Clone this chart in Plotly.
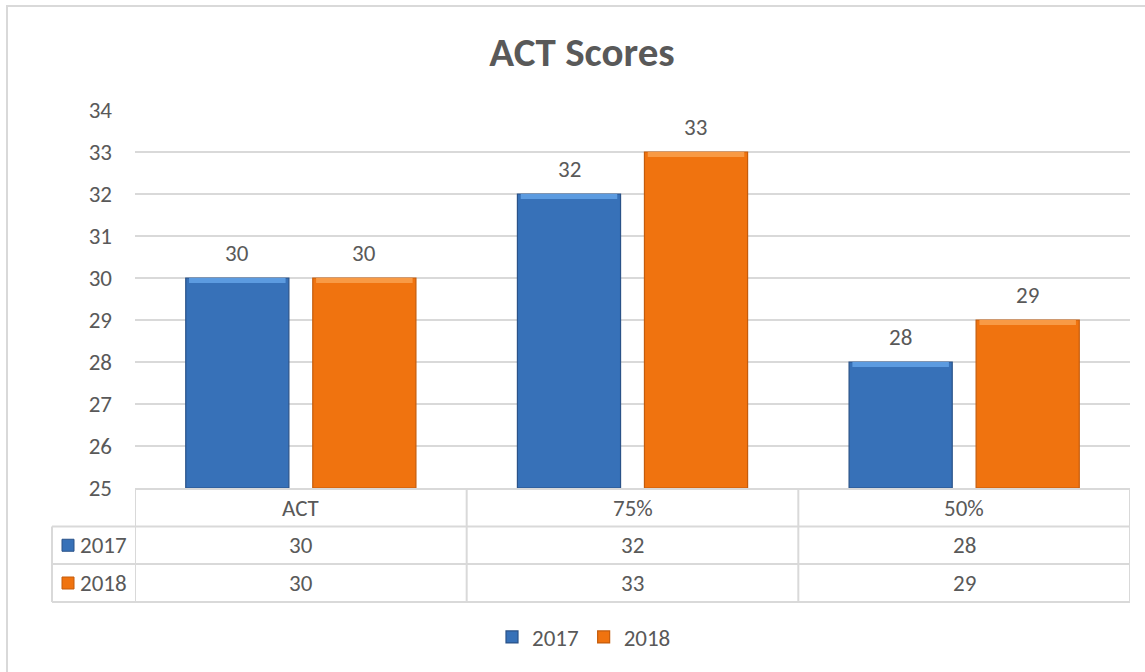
import plotly.graph_objects as go

categories = ["ACT", "75%", "50%"]
series_names = ["2017", "2018"]
values_2017 = [30, 32, 28]
values_2018 = [30, 33, 29]
y_ticks = [25, 26, 27, 28, 29, 30, 31, 32, 33, 34]

FONT = "Calibri, Carlito, Lato, sans-serif"
FS = 23
TXT = "#595959"
GRID = "#d9d9d9"

colors = {"2017": "#3771b8", "2018": "#f0730f"}
tops = {"2017": "#5c9be0", "2018": "#f89a45"}
edges = {"2017": "#2a5288", "2018": "#c45c0c"}
offsets = {"2017": -0.347, "2018": 0.036}
BW = 0.311
BASE = 25

fig = go.Figure()
series = {"2017": values_2017, "2018": values_2018}
for name in series_names:
    vals = series[name]
    fig.add_trace(go.Bar(
        x=categories, y=[v - BASE for v in vals], base=BASE, name=name,
        width=BW, offset=offsets[name],
        marker=dict(color=colors[name], line=dict(color=edges[name], width=1.2)),
        hoverinfo="x+y+name",
    ))
    # top bevel highlight
    fig.add_trace(go.Bar(
        x=categories, y=[0.12] * len(vals), base=[v - 0.12 for v in vals],
        width=BW - 0.02, offset=offsets[name] + 0.01, showlegend=False,
        marker=dict(color=tops[name], line=dict(width=0)), hoverinfo="skip",
    ))

annotations = []
# data labels above bars
for name in series_names:
    for c, v in zip(categories, series[name]):
        annotations.append(dict(
            x=c, y=v, xref="x", yref="y", text=str(v), showarrow=False,
            xanchor="center", yanchor="middle",
            xshift=(offsets[name] + BW / 2) * 331, yshift=25,
            font=dict(family=FONT, size=FS, color=TXT)))

# data table geometry (paper coords)
PW, PH = 995.0, 378.0
def py(pix):
    return (488 - pix) / PH
def px(pix):
    return (pix - 135) / PW

row_lines = [py(489), py(526.5), py(564), py(602)]
shapes = []
# table horizontal lines
shapes.append(dict(type="line", xref="paper", yref="paper", x0=0, x1=1, y0=row_lines[0], y1=row_lines[0],
                   line=dict(color=GRID, width=2)))
for yv in row_lines[1:]:
    shapes.append(dict(type="line", xref="paper", yref="paper", x0=px(52), x1=1, y0=yv, y1=yv,
                       line=dict(color=GRID, width=2)))
# table vertical lines
for xv in [-0.5, 0.5, 1.5, 2.5]:
    shapes.append(dict(type="line", xref="x", yref="paper", x0=xv, x1=xv, y0=row_lines[0], y1=row_lines[3],
                       line=dict(color=GRID, width=2)))
shapes.append(dict(type="line", xref="paper", yref="paper", x0=px(52), x1=px(52), y0=row_lines[1], y1=row_lines[3],
                   line=dict(color=GRID, width=2)))
# outer chart border
shapes.append(dict(type="rect", xref="paper", yref="paper", x0=px(7), x1=px(1160), y0=py(690), y1=py(6),
                   line=dict(color=GRID, width=2), layer="below"))

# header
hy = (row_lines[0] + row_lines[1]) / 2
for c in categories:
    annotations.append(dict(x=c, y=hy, xref="x", yref="paper", text=c, showarrow=False,
                            xanchor="center", yanchor="middle",
                            font=dict(family=FONT, size=FS, color=TXT)))
# rows
for i, name in enumerate(series_names):
    ry = (row_lines[i + 1] + row_lines[i + 2]) / 2
    shapes.append(dict(type="rect", xref="paper", yref="paper",
                       x0=px(62), x1=px(74), y0=ry - 6 / PH, y1=ry + 6 / PH,
                       fillcolor=colors[name], line=dict(color=edges[name], width=1)))
    annotations.append(dict(x=px(78), y=ry, xref="paper", yref="paper", text=name, showarrow=False,
                            xanchor="left", yanchor="middle", font=dict(family=FONT, size=FS, color=TXT)))
    for c, v in zip(categories, series[name]):
        annotations.append(dict(x=c, y=ry, xref="x", yref="paper", text=str(v), showarrow=False,
                                xanchor="center", yanchor="middle",
                                font=dict(family=FONT, size=FS, color=TXT)))

fig.update_layout(
    width=1145, height=672,
    margin=dict(l=135, r=15, t=110, b=184),
    paper_bgcolor="white", plot_bgcolor="white",
    barmode="overlay",
    title=dict(text="<b>ACT Scores</b>", x=582 / 1145, xanchor="center", xref="container",
               y=1 - 52 / 672, yanchor="middle", yref="container",
               font=dict(family=FONT, size=41, color=TXT)),
    xaxis=dict(showticklabels=False, showgrid=False, zeroline=False, showline=False,
               range=[-0.5, 2.5], fixedrange=True),
    yaxis=dict(range=[25, 34], tickvals=y_ticks, showgrid=True, gridcolor=GRID, gridwidth=2,
               zeroline=False, showline=False, ticklabelstandoff=22,
               tickfont=dict(family=FONT, size=FS, color=TXT)),
    legend=dict(orientation="h", x=px(584), xanchor="center", y=py(637), yanchor="middle",
                font=dict(family=FONT, size=FS, color=TXT), itemwidth=30),
    shapes=shapes, annotations=annotations,
    showlegend=True,
)

fig.write_html("out.html", config={"displayModeBar": False},
               post_script="document.body.style.margin='0';")
